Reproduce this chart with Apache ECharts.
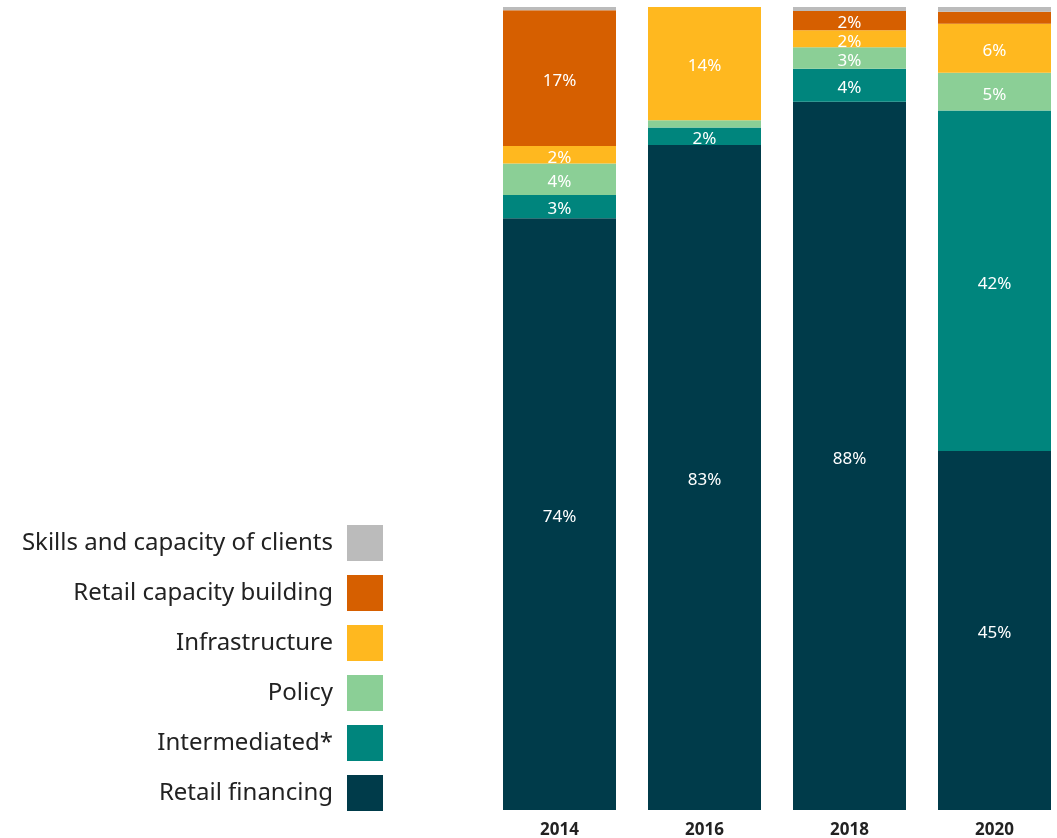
<!DOCTYPE html>
<html>
<head>
<meta charset="utf-8">
<script src="https://cdn.jsdelivr.net/npm/echarts@6/dist/echarts.min.js"></script>
<style>
    html, body { margin: 0; padding: 0; background: #fff; }
    #chart { width: 1057px; height: 838px; }
</style>
</head>
<body>
<div id="chart"></div>
<script>
// years on the x axis
var years = ['2014', '2016', '2018', '2020'];

// shares per year, in percent (bottom to top of the stack)
var retailFinancing = [73.7, 82.8, 88.2, 44.7];
var intermediated = [2.9, 2.2, 4.1, 42.4];
var policy = [3.9, 0.9, 2.7, 4.7];
var infrastructure = [2.2, 14.1, 2.1, 6.1];
var retailCapacity = [16.9, 0, 2.4, 1.5];
var skillsClients = [0.4, 0, 0.5, 0.6];

var chart = echarts.init(document.getElementById('chart'));

// only label segments that are big enough
function labelFmt(p) {
    return p.value >= 2 ? Math.round(p.value) + '%' : '';
}

function makeSeries(name, data, color) {
    return {
        name: name,
        type: 'bar',
        stack: 'total',
        barWidth: 113,
        data: data,
        itemStyle: { color: color },
        label: {
            show: true,
            position: 'inside',
            offset: [0, 3],
            color: '#fff',
            fontSize: 17,
            fontFamily: 'Noto Sans',
            formatter: labelFmt
        },
        emphasis: { disabled: true }
    };
}

var option = {
    backgroundColor: '#fff',
    animation: false,
    grid: {
        left: 487,
        top: 7,
        width: 580,
        bottom: 28,
        outerBoundsMode: 'none'
    },
    legend: {
        orient: 'vertical',
        right: 674,
        top: 525,
        padding: 0,
        align: 'right',
        itemWidth: 36,
        itemHeight: 36,
        itemGap: 14,
        icon: 'rect',
        selectedMode: false,
        textStyle: {
            fontSize: 24,
            color: '#222',
            fontFamily: 'Noto Sans',
            padding: [0, 9, 0, 0]
        },
        data: ['Skills and capacity of clients', 'Retail capacity building', 'Infrastructure',
               'Policy', 'Intermediated*', 'Retail financing']
    },
    xAxis: {
        type: 'category',
        data: years,
        axisLine: { show: false },
        axisTick: { show: false },
        axisLabel: {
            margin: 12,
            fontSize: 17,
            fontWeight: 'bold',
            color: '#222',
            fontFamily: 'Noto Sans'
        }
    },
    yAxis: {
        type: 'value',
        min: 0,
        max: 100,
        show: false
    },
    series: [
        makeSeries('Retail financing', retailFinancing, '#003B4A'),
        makeSeries('Intermediated*', intermediated, '#00857D'),
        makeSeries('Policy', policy, '#8BCF96'),
        makeSeries('Infrastructure', infrastructure, '#FFB81F'),
        makeSeries('Retail capacity building', retailCapacity, '#D65F00'),
        makeSeries('Skills and capacity of clients', skillsClients, '#BBBBBB')
    ]
};

chart.setOption(option);
</script>
</body>
</html>
